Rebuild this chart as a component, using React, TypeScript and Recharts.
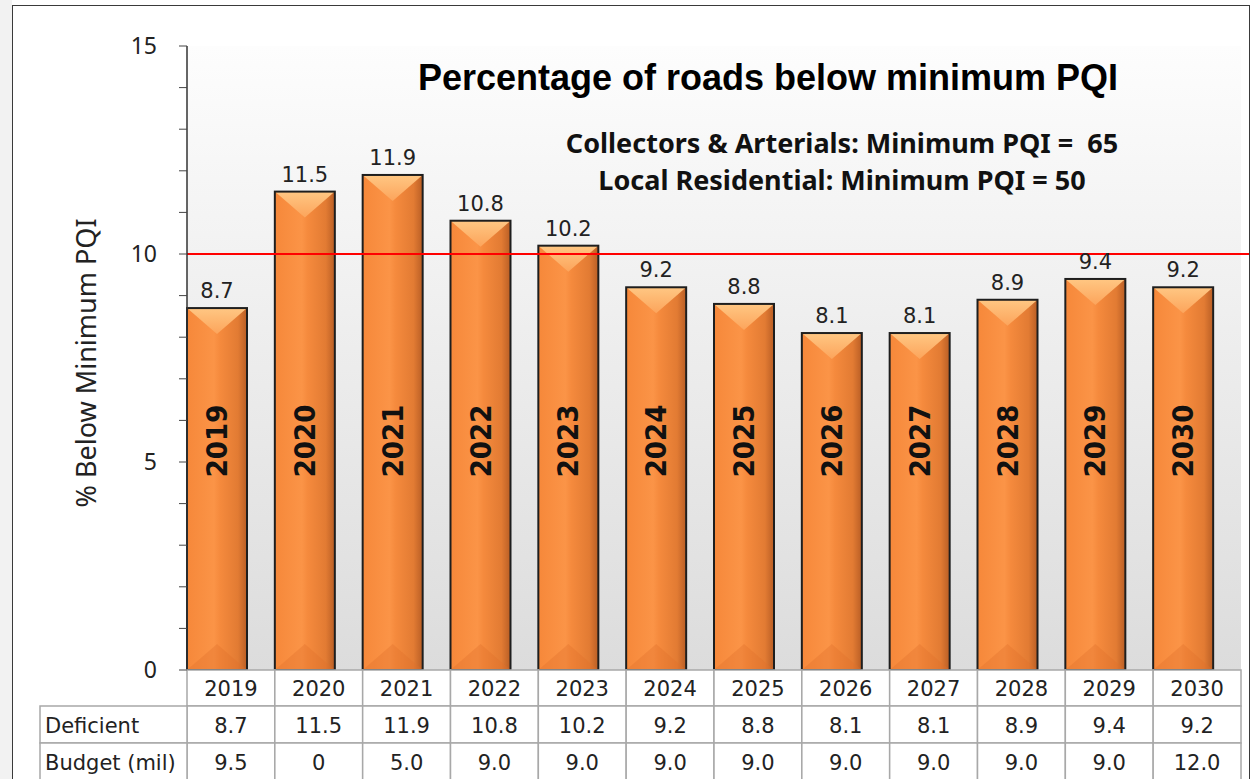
import React from "react";
import {
  BarChart,
  Bar,
  XAxis,
  YAxis,
  CartesianGrid,
  ReferenceLine,
  LabelList,
} from "recharts";

const years = ["2019", "2020", "2021", "2022", "2023", "2024", "2025", "2026", "2027", "2028", "2029", "2030"];
const deficient = [8.7, 11.5, 11.9, 10.8, 10.2, 9.2, 8.8, 8.1, 8.1, 8.9, 9.4, 9.2];
const budget = [9.5, 0, 5.0, 9.0, 9.0, 9.0, 9.0, 9.0, 9.0, 9.0, 9.0, 12.0];
const yTicks = [0, 1, 2, 3, 4, 5, 6, 7, 8, 9, 10, 11, 12, 13, 14, 15];
const rowLabels = ["Deficient", "Budget (mil)"];
const threshold = 10;

const data = years.map((year, i) => ({
  year,
  deficient: deficient[i],
  budget: budget[i],
  pad: 0,
}));

const CHART_W = 1256;
const CHART_H = 780;
const MARGIN = { top: 46, right: 15, left: 87, bottom: 0 };
const Y_W = 100;
const PLOT_W = CHART_W - MARGIN.left - MARGIN.right - Y_W;
const CELL_W = PLOT_W / years.length;
const LABEL_CELL_W = 147;
const ROWS = [36, 37, 37];

const numFont = "'DejaVu Sans', sans-serif";

const fmtBudget = (v: number) => (v === 0 ? "0" : v.toFixed(1));

// bevelled orange column
const BevelBar = (props: any) => {
  const { x, y, width, height } = props;
  if (!height || height <= 0) return null;
  const d = Math.min(26, height / 2);
  const bottom = y + height;
  return (
    <g>
      <rect x={x} y={y} width={width} height={height} fill="url(#barBody)" />
      <polygon
        points={`${x},${bottom} ${x + width},${bottom} ${x + width / 2},${bottom - d}`}
        fill="#e0702a"
        opacity={0.35}
      />
      <polygon
        points={`${x},${y} ${x + width},${y} ${x + width / 2},${y + d}`}
        fill="url(#barTop)"
      />
      <rect x={x} y={y} width={width} height={height} fill="none" stroke="#1e1e1e" strokeWidth={2} />
    </g>
  );
};

const YearInBar = (props: any) => {
  const { x, y, width, height, value } = props;
  const cx = x + width / 2;
  const cy = y + height - 229;
  return (
    <text
      x={cx}
      y={cy}
      transform={`rotate(-90 ${cx} ${cy})`}
      textAnchor="middle"
      dominantBaseline="central"
      fontFamily="'Liberation Sans Narrow', 'DejaVu Sans Condensed', sans-serif"
      fontWeight="bold"
      fontSize={29}
      fill="#111"
    >
      {value}
    </text>
  );
};

// data table drawn as the x axis ticks
const TableTick = (props: any) => {
  const { x, y, payload } = props;
  const i = payload.index;
  const left = x - CELL_W / 2;
  const vals = [years[i], deficient[i].toFixed(1), fmtBudget(budget[i])];
  let top = y;
  const cells: any[] = [];
  vals.forEach((v, r) => {
    const h = ROWS[r];
    cells.push(
      <rect key={`c${r}`} x={left} y={top} width={CELL_W} height={h} fill="#fff" stroke="#a8a8a8" strokeWidth={1.5} />
    );
    cells.push(
      <text key={`t${r}`} x={x} y={top + h / 2 + 1} textAnchor="middle" dominantBaseline="central" fontFamily={numFont} fontSize={21} fill="#222">
        {v}
      </text>
    );
    if (i === 0 && r > 0) {
      cells.push(
        <rect key={`l${r}`} x={left - LABEL_CELL_W} y={top} width={LABEL_CELL_W} height={h} fill="#fff" stroke="#a8a8a8" strokeWidth={1.5} />
      );
      cells.push(
        <text key={`lt${r}`} x={left - LABEL_CELL_W + 5} y={top + h / 2 + 1} dominantBaseline="central" fontFamily={numFont} fontSize={21} fill="#222">
          {rowLabels[r - 1]}
        </text>
      );
    }
    top += h;
  });
  return <g>{cells}</g>;
};

const YLabel = (props: any) => {
  const { viewBox } = props;
  const cx = viewBox.x - 2;
  const cy = 363;
  return (
    <text
      x={cx}
      y={cy}
      transform={`rotate(-90 ${cx} ${cy})`}
      textAnchor="middle"
      dominantBaseline="central"
      fontFamily="'Noto Sans', sans-serif"
      fontSize={27}
      fill="#222"
    >
      % Below Minimum PQI
    </text>
  );
};

export default function App() {
  return (
    <div style={{ position: "absolute", left: 0, top: 0, width: 1256, height: 779, overflow: "hidden", background: "#fff" }}>
      <div style={{ position: "absolute", left: 0, top: 0, width: 12, height: 779, background: "#f2f2f2" }} />
      <div style={{ position: "absolute", left: 12, top: 5, width: 1236, height: 800, border: "1px solid #3a3a3a", background: "#fff" }} />
      <div style={{ position: "absolute", left: 0, top: 0 }}>
        <BarChart width={CHART_W} height={CHART_H} data={data} margin={MARGIN} barGap={0} barCategoryGap={0}>
          <defs>
            <linearGradient id="plotBg" x1="0" y1="0" x2="0" y2="1">
              <stop offset="0%" stopColor="#fdfdfd" />
              <stop offset="100%" stopColor="#dcdcdc" />
            </linearGradient>
            <linearGradient id="barBody" x1="0" y1="0" x2="1" y2="0">
              <stop offset="0%" stopColor="#f6883a" />
              <stop offset="45%" stopColor="#fb9447" />
              <stop offset="55%" stopColor="#f58a3d" />
              <stop offset="85%" stopColor="#e27b33" />
              <stop offset="100%" stopColor="#b95e25" />
            </linearGradient>
            <linearGradient id="barTop" x1="0" y1="0" x2="0" y2="1">
              <stop offset="0%" stopColor="#ffc783" />
              <stop offset="100%" stopColor="#fca45b" />
            </linearGradient>
          </defs>
          <CartesianGrid horizontal={false} vertical={false} fill="url(#plotBg)" />
          <XAxis
            dataKey="year"
            height={ROWS[0] + ROWS[1] + ROWS[2]}
            axisLine={false}
            tickLine={false}
            tickSize={0}
            tickMargin={0}
            interval={0}
            tick={<TableTick />}
          />
          <YAxis
            width={Y_W}
            domain={[0, 15]}
            ticks={yTicks}
            interval={0}
            tickSize={8}
            tickMargin={22}
            tickFormatter={(v: number) => (v % 5 === 0 ? String(v) : "")}
            tick={{ fontSize: 23, fill: "#222", fontFamily: "'Noto Sans', sans-serif" }}
            axisLine={{ stroke: "#333", strokeWidth: 1.5 }}
            tickLine={{ stroke: "#444" }}
            label={<YLabel />}
          />
          <Bar dataKey="deficient" barSize={60} shape={<BevelBar />} isAnimationActive={false}>
            <LabelList dataKey="deficient" position="top" offset={10} fill="#222" fontSize={21} fontFamily={numFont} />
            <LabelList dataKey="year" content={<YearInBar />} />
          </Bar>
          <Bar dataKey="pad" barSize={27} fill="none" isAnimationActive={false} />
          <ReferenceLine
            y={threshold}
            shape={(p: any) => (
              <line x1={p.x1} y1={p.y1} x2={p.x2 + 8} y2={p.y2} stroke="#ff0000" strokeWidth={2} />
            )}
          />
        </BarChart>
      </div>
      <div
        style={{
          position: "absolute",
          left: 368,
          width: 800,
          top: 57,
          textAlign: "center",
          fontFamily: "'Liberation Sans', Arial, sans-serif",
          fontWeight: "bold",
          fontSize: 36,
          lineHeight: "42px",
          color: "#000",
        }}
      >
        Percentage of roads below minimum PQI
      </div>
      <div
        style={{
          position: "absolute",
          left: 442,
          width: 800,
          top: 124,
          textAlign: "center",
          fontFamily: "'Noto Sans', sans-serif",
          fontWeight: "bold",
          fontSize: 27,
          lineHeight: "37px",
          color: "#111",
          whiteSpace: "pre",
        }}
      >
        {"Collectors & Arterials: Minimum PQI =  65\nLocal Residential: Minimum PQI = 50"}
      </div>
    </div>
  );
}
